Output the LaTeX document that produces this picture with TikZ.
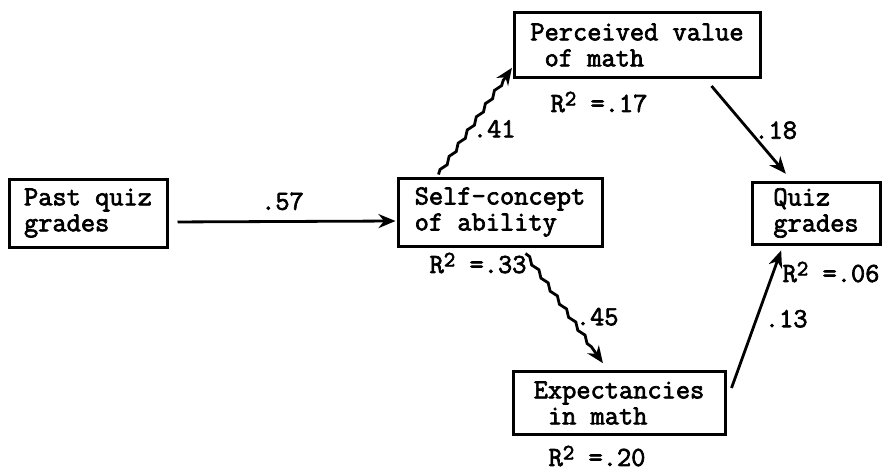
\documentclass[tikz,border=0pt]{standalone}
\usepackage{fontspec}
\usepackage{tikz}
\usetikzlibrary{decorations.pathmorphing, arrows.meta}
\newfontfamily\typew{Latin Modern Mono}[FakeBold=2.5]

\newcommand{\Rsq}{R\raisebox{0.55ex}{\fontsize{11}{11}\selectfont 2}}

\begin{document}
\begin{tikzpicture}[
  x=0.5pt, y=-0.5pt,
  every node/.style={font=\fontsize{13.8}{13}\selectfont\typew},
  box/.style={
    draw=black, line width=1.5pt, inner sep=0pt,
    align=left
  },
  arr/.style={-{Stealth[length=8.5pt, width=7pt]}, line width=1.4pt, shorten >=0.5pt},
  warr/.style={arr, decorate, decoration={snake, amplitude=0.8pt,
    segment length=8pt, post length=7pt}},
  plab/.style={inner sep=2pt},
  rlab/.style={inner sep=0pt},
]
\useasboundingbox (0,0) rectangle (894,471);

%% Boxes
\node[box, minimum width=79pt, minimum height=34pt]  (past)  at (88, 213)  {Past quiz\\grades};
\node[box, minimum width=102pt, minimum height=34pt] (self)  at (500, 212) {Self-concept\\of ability};
\node[box, minimum width=123pt, minimum height=32.5pt] (value) at (637, 45) {Perceived value\\\phantom{x}of math};
\node[box, minimum width=64pt, minimum height=31pt]  (quiz)  at (816, 213) {Quiz\\grades};
\node[box, minimum width=106pt, minimum height=31.5pt] (expect) at (619, 403) {Expectancies\\\phantom{x}in math};

%% Explained variance
\node[rlab] (r1) at (478, 263) {\Rsq{} =.33};
\node[rlab] (r2) at (599, 102) {\Rsq{} =.17};
\node[rlab] (r3) at (831, 272) {\Rsq{} =.06};
\node[rlab] (r4) at (597, 456) {\Rsq{} =.20};

%% Paths
\draw[arr, shorten <=4.5pt] ([yshift=-4.5pt]past.east) -- ([yshift=-4.5pt]self.west)
  node[midway, above, plab, yshift=3pt] {.57};

\draw[warr] ([xshift=21pt, yshift=1pt]self.north west) -- ([yshift=6pt]value.south west)
  node[midway, right, plab, xshift=-4pt, yshift=-4pt] {.41};

\draw[warr] ([xshift=64.5pt, yshift=-3pt]self.south west) -- ([xshift=46pt, yshift=3pt]expect.north west)
  node[midway, right, plab, xshift=3pt, yshift=-4pt] {.45};

\draw[arr] ([xshift=-25pt, yshift=-3.5pt]value.south east) -- ([xshift=18pt, yshift=3pt]quiz.north west)
  node[midway, right, plab, xshift=0pt] {.18};

\draw[arr] ([xshift=2.5pt, yshift=7.5pt]expect.east) -- ([xshift=15.5pt, yshift=-2pt]quiz.south west)
  node[midway, right, plab, xshift=1.5pt] {.13};

\end{tikzpicture}
\end{document}
